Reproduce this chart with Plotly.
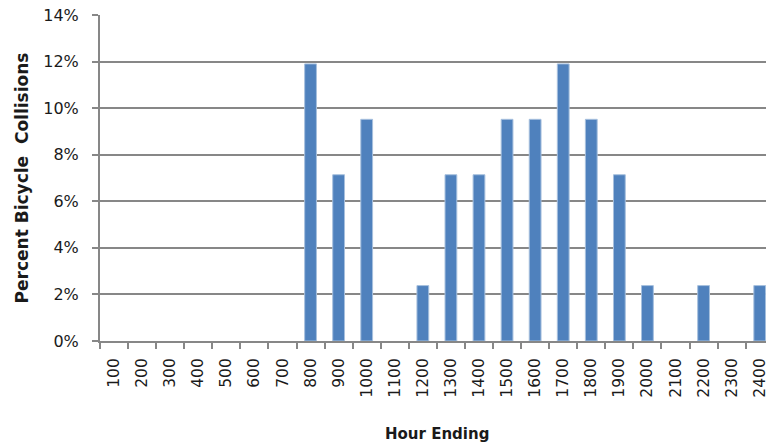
import plotly.graph_objects as go

hours = [str(h) for h in range(100, 2500, 100)]
percent = [0, 0, 0, 0, 0, 0, 0, 11.9, 7.14, 9.52, 0, 2.38, 7.14, 7.14, 9.52, 9.52,
           11.9, 9.52, 7.14, 2.38, 0, 2.38, 0, 2.38]
y_ticks = [0, 2, 4, 6, 8, 10, 12, 14]
y_labels = [f"{v}%" for v in y_ticks]

W, H = 769, 447
L, R, T, B = 100, 0, 15, 106
plot_w = W - L - R
cat_px = 28.2
x_max = -0.5 + plot_w / cat_px

font = "'DejaVu Sans', sans-serif"
grey = "#878787"

fig = go.Figure(go.Bar(
    x=hours, y=percent, width=0.42,
    marker=dict(color="#4F81BD",
                line=dict(color="#A7C0DE", width=[1 if v > 0 else 0 for v in percent])),
))

fig.update_layout(
    width=W, height=H,
    margin=dict(l=L, r=R, t=T, b=B),
    plot_bgcolor="white", paper_bgcolor="white",
    showlegend=False,
    font=dict(family=font, color="#1a1a1a", size=15),
    xaxis=dict(
        type="category", range=[-0.5, x_max],
        tickson="boundaries", ticks="outside", ticklen=6, tickcolor=grey, tickwidth=1.5,
        showline=True, linecolor=grey, linewidth=2, showgrid=False,
        tickangle=-90, tickfont=dict(size=15.5, family=font), ticklabelstandoff=9,
    ),
    yaxis=dict(
        range=[0, 14], tickvals=y_ticks, ticktext=y_labels,
        ticks="outside", ticklen=6, tickcolor=grey, tickwidth=1.5,
        showline=True, linecolor=grey, linewidth=2,
        showgrid=True, gridcolor=grey, gridwidth=1.5, zeroline=False,
        tickfont=dict(size=16, family=font), ticklabelstandoff=10,
        title=dict(text="<b>Percent Bicycle\u00a0\u00a0Collisions</b>",
                   font=dict(size=17, family=font), standoff=10),
    ),
    annotations=[dict(
        text="<b>Hour Ending</b>", xref="paper", yref="paper",
        x=(439 - L) / plot_w, y=-(434 - (H - B)) / (H - T - B),
        xanchor="center", yanchor="middle", showarrow=False,
        font=dict(size=15, family=font),
    )],
)

fig.write_html("out.html")
